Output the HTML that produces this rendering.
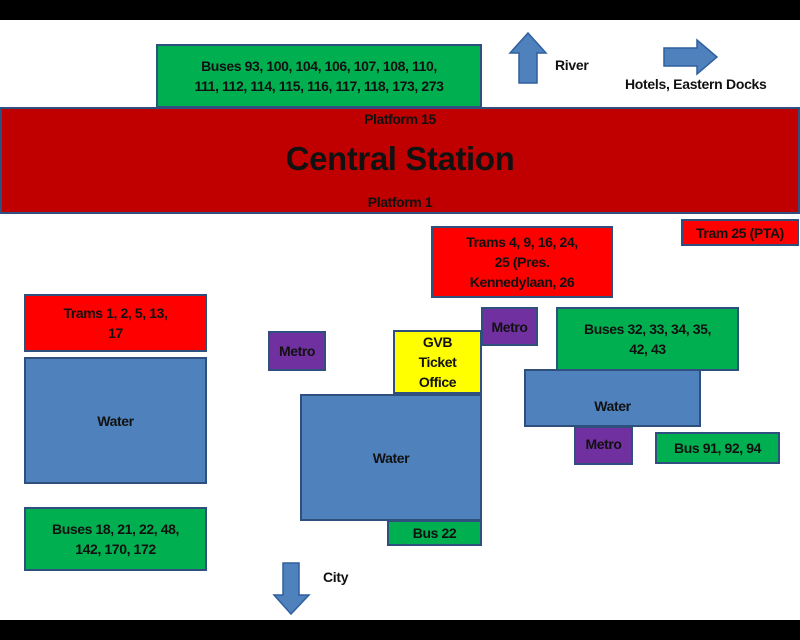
<!DOCTYPE html>
<html><head><style>
body{margin:0;width:800px;height:640px;background:#fff;position:relative;overflow:hidden;font-family:"Liberation Sans",sans-serif;font-weight:bold;}
.b{position:absolute;box-sizing:border-box;border:2px solid #2f4f7f;display:flex;align-items:center;justify-content:center;text-align:center;font-size:14px;line-height:20px;color:#111;letter-spacing:-0.4px;}
.g{background:#00b050}.r{background:#ff0000}.w{background:#4f81bd}.p{background:#7030a0}.y{background:#ffff00}
.t{position:absolute;font-size:14px;color:#111;letter-spacing:-0.3px;}
</style></head><body>
<div style="position:absolute;left:0;top:0;width:800px;height:20px;background:#000"></div>
<div style="position:absolute;left:0;top:620px;width:800px;height:20px;background:#000"></div>

<div class="b g" style="left:156px;top:44px;width:326px;height:64px">Buses 93, 100, 104, 106, 107, 108, 110,<br>111, 112, 114, 115, 116, 117, 118, 173, 273</div>
<div class="b" style="left:0;top:107px;width:800px;height:107px;background:#c00000;display:block">
<div style="position:absolute;left:0;right:0;top:0px;font-size:14px">Platform 15</div>
<div style="position:absolute;left:0;right:0;top:30px;font-size:33px;line-height:40px">Central Station</div>
<div style="position:absolute;left:0;right:0;top:83px;font-size:14px">Platform 1</div>
</div>
<div class="b r" style="left:681px;top:219px;width:118px;height:27px">Tram 25 (PTA)</div>
<div class="b r" style="left:431px;top:226px;width:182px;height:72px">Trams 4, 9, 16, 24,<br>25 (Pres.<br>Kennedylaan, 26</div>
<div class="b r" style="left:24px;top:294px;width:183px;height:58px">Trams 1, 2, 5, 13,<br>17</div>
<div class="b w" style="left:24px;top:357px;width:183px;height:127px">Water</div>
<div class="b g" style="left:24px;top:507px;width:183px;height:64px">Buses 18, 21, 22, 48,<br>142, 170, 172</div>
<div class="b p" style="left:268px;top:331px;width:58px;height:40px">Metro</div>
<div class="b y" style="left:393px;top:330px;width:89px;height:64px">GVB<br>Ticket<br>Office</div>
<div class="b p" style="left:481px;top:307px;width:57px;height:39px;align-items:flex-start;padding-top:8px">Metro</div>
<div class="b g" style="left:556px;top:307px;width:183px;height:64px">Buses 32, 33, 34, 35,<br>42, 43</div>
<div class="b w" style="left:524px;top:369px;width:177px;height:58px;padding-top:16px">Water</div>
<div class="b p" style="left:574px;top:426px;width:59px;height:39px;align-items:flex-start;padding-top:6px">Metro</div>
<div class="b g" style="left:655px;top:432px;width:125px;height:32px">Bus 91, 92, 94</div>
<div class="b w" style="left:300px;top:394px;width:182px;height:127px">Water</div>
<div class="b g" style="left:387px;top:520px;width:95px;height:26px">Bus 22</div>

<svg style="position:absolute;left:0;top:0" width="800" height="640">
<g fill="#4f81bd" stroke="#2f5f9f" stroke-width="1.5">
<polygon points="528,33 546,53 537,53 537,83 519,83 519,53 510,53"/>
<polygon points="664,48 697,48 697,40 717,57 697,74 697,66 664,66"/>
<polygon points="283,563 299,563 299,595 309,595 291,614 274,595 283,595"/>
</g></svg>
<div class="t" style="left:555px;top:57px">River</div>
<div class="t" style="left:625px;top:76px">Hotels, Eastern Docks</div>
<div class="t" style="left:323px;top:569px">City</div>
</body></html>
